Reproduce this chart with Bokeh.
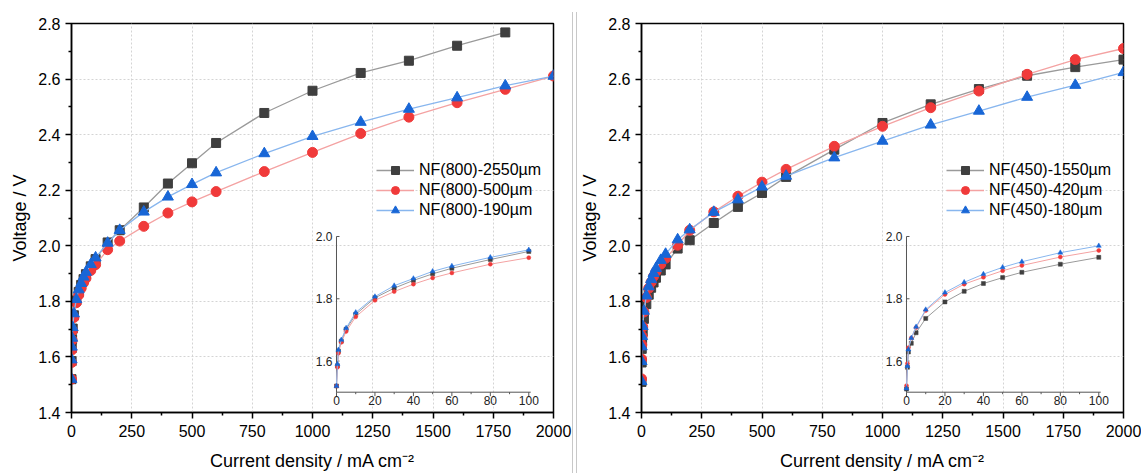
from bokeh.plotting import figure
from bokeh.models import (Range1d, FixedTicker, NumeralTickFormatter, Legend,
                          LegendItem, Div, ColumnDataSource)
from bokeh.layouts import row
from bokeh.embed import file_html
from bokeh.resources import INLINE
from bokeh.core.properties import value
import math

# ---------------- data ----------------
current = [0, 0.5, 1, 2.5, 5, 10, 20, 30, 40, 50, 60, 80, 100,
           150, 200, 300, 400, 500, 600, 800, 1000, 1200, 1400, 1600, 1800, 2000]

left_labels = ["NF(800)-2550µm", "NF(800)-500µm", "NF(800)-190µm"]
left_2550 = [1.520, 1.585, 1.632, 1.664, 1.702, 1.750, 1.803, 1.834, 1.859, 1.880, 1.898, 1.926, 1.952,
             2.012, 2.056, 2.138, 2.224, 2.297, 2.370, 2.478, 2.558, 2.622, 2.666, 2.720, 2.768]
left_500 = [1.520, 1.580, 1.625, 1.660, 1.695, 1.742, 1.795, 1.823, 1.847, 1.867, 1.883, 1.911, 1.932,
            1.986, 2.017, 2.070, 2.118, 2.158, 2.195, 2.267, 2.336, 2.404, 2.463, 2.515, 2.563, 2.611]
left_190 = [1.520, 1.590, 1.636, 1.668, 1.706, 1.756, 1.807, 1.842, 1.865, 1.888, 1.905, 1.933, 1.957,
            2.010, 2.056, 2.122, 2.176, 2.221, 2.263, 2.332, 2.394, 2.445, 2.492, 2.533, 2.576, 2.611]

right_labels = ["NF(450)-1550µm", "NF(450)-420µm", "NF(450)-180µm"]
right_1550 = [1.510, 1.580, 1.629, 1.657, 1.691, 1.737, 1.790, 1.824, 1.849, 1.868, 1.885, 1.911, 1.933,
              1.990, 2.020, 2.082, 2.140, 2.190, 2.248, 2.346, 2.442, 2.509, 2.564, 2.612, 2.643, 2.670]
right_420 = [1.521, 1.592, 1.643, 1.674, 1.708, 1.762, 1.814, 1.847, 1.869, 1.890, 1.907, 1.934, 1.955,
             2.002, 2.056, 2.122, 2.178, 2.229, 2.275, 2.358, 2.430, 2.497, 2.557, 2.617, 2.670, 2.710]
right_180 = [1.512, 1.584, 1.637, 1.674, 1.710, 1.765, 1.820, 1.853, 1.879, 1.901, 1.919, 1.948, 1.970,
             2.022, 2.058, 2.121, 2.166, 2.212, 2.251, 2.317, 2.377, 2.435, 2.485, 2.535, 2.578, 2.624]

x_ticks = [0, 250, 500, 750, 1000, 1250, 1500, 1750, 2000]
x_minor = [125, 375, 625, 875, 1125, 1375, 1625, 1875]
y_ticks = [1.4, 1.6, 1.8, 2.0, 2.2, 2.4, 2.6, 2.8]
y_minor = [1.5, 1.7, 1.9, 2.1, 2.3, 2.5, 2.7]

inset_x_ticks = [0, 20, 40, 60, 80, 100]
inset_x_minor = [10, 30, 50, 70, 90]
inset_y_ticks = [1.6, 1.8, 2.0]
inset_max_current = 100

# ---------------- styling ----------------
FONT = "Liberation Sans"
STYLES = [
    dict(marker="square", fill="#3f3f3f", line="#9a9a9a", size=9, isize=4),
    dict(marker="circle", fill="#f03a3a", line="#f4a2a2", size=10, isize=4),
    dict(marker="triangle", fill="#1866d6", line="#88b6ee", size=11, isize=5),
]

# inset placement expressed as ranges for extra (inset) scales
INSET_X = (-137.8, 112.85)
INSET_Y = (1.4348, 2.684)
INSET_Y_LIM = (1.5, 2.0)
INSET_X_LIM = (0, 101)

H = 473
B_TOP = 23
B_BOT = 61


def make_panel(series, labels, width, bl, br):
    p = figure(width=width, height=H, output_backend="svg", toolbar_location=None,
               x_range=Range1d(0, 2000), y_range=Range1d(1.4, 2.8),
               min_border_left=bl, min_border_right=br, min_border_top=B_TOP, min_border_bottom=B_BOT,
               x_axis_label="Current density / mA cm⁻²", y_axis_label="Voltage / V")
    p.background_fill_color = "white"
    p.border_fill_color = "white"
    p.outline_line_color = "black"
    p.outline_line_width = 1.5
    p.outline_line_alpha = 1.0

    p.xaxis.ticker = FixedTicker(ticks=x_ticks, minor_ticks=x_minor)
    p.yaxis.ticker = FixedTicker(ticks=y_ticks, minor_ticks=y_minor)
    p.yaxis.formatter = NumeralTickFormatter(format="0.0")
    for ax in (p.xaxis[0], p.yaxis[0]):
        ax.axis_line_color = "black"
        ax.axis_line_width = 1.5
        ax.major_tick_line_color = "black"
        ax.major_tick_line_width = 1.5
        ax.minor_tick_line_color = "black"
        ax.minor_tick_line_width = 1.5
        ax.major_tick_in = 0
        ax.major_tick_out = 6
        ax.minor_tick_in = 0
        ax.minor_tick_out = 3
        ax.major_label_text_font = FONT
        ax.major_label_text_font_size = "16px"
        ax.major_label_text_color = "black"
        ax.axis_label_text_font = FONT
        ax.axis_label_text_font_size = "18px"
        ax.axis_label_text_font_style = "normal"
        ax.axis_label_text_color = "black"
    p.xaxis.major_label_standoff = 6
    p.yaxis.major_label_standoff = 5
    p.xaxis.axis_label_standoff = 11
    p.yaxis.axis_label_standoff = 5

    p.grid.grid_line_color = "#d4d4d4"
    p.grid.grid_line_dash = "2 2"
    p.grid.grid_line_width = 1

    # inset scales
    p.extra_x_ranges = {"inset": Range1d(*INSET_X)}
    p.extra_y_ranges = {"inset": Range1d(*INSET_Y)}

    items = []
    for ys, lab, st in zip(series, labels, STYLES):
        xs = current[:len(ys)]
        src = ColumnDataSource(dict(x=xs, y=ys))
        lr = p.line("x", "y", source=src, line_color=st["line"], line_width=1.3)
        sr = p.scatter("x", "y", source=src, marker=st["marker"], size=st["size"],
                       fill_color=st["fill"], line_color=st["fill"], line_width=1)
        items.append(LegendItem(label=lab, renderers=[lr, sr]))

    # ---- inset ----
    kw = dict(x_range_name="inset", y_range_name="inset")
    p.segment(x0=[INSET_X_LIM[0]], y0=[INSET_Y_LIM[0]], x1=[INSET_X_LIM[1]], y1=[INSET_Y_LIM[0]],
              line_color="#555555", line_width=1, **kw)
    p.segment(x0=[INSET_X_LIM[0]], y0=[INSET_Y_LIM[0]], x1=[INSET_X_LIM[0]], y1=[INSET_Y_LIM[1]],
              line_color="#555555", line_width=1, **kw)
    p.ray(x=inset_x_ticks, y=[INSET_Y_LIM[0]] * len(inset_x_ticks), length=4, length_units="screen",
          angle=-math.pi / 2, line_color="#555555", line_width=1, **kw)
    p.ray(x=inset_x_minor, y=[INSET_Y_LIM[0]] * len(inset_x_minor), length=2, length_units="screen",
          angle=-math.pi / 2, line_color="#555555", line_width=1, **kw)
    p.ray(x=[INSET_X_LIM[0]] * len(inset_y_ticks), y=inset_y_ticks, length=3, length_units="screen",
          angle=0, line_color="#555555", line_width=1, **kw)
    p.text(x=inset_x_ticks, y=[INSET_Y_LIM[0]] * len(inset_x_ticks),
           text=[str(v) for v in inset_x_ticks],
           text_font=value(FONT), text_font_size="12px", text_color="#222222",
           text_align="center", text_baseline="top", y_offset=4, **kw)
    p.text(x=[INSET_X_LIM[0]] * len(inset_y_ticks), y=inset_y_ticks,
           text=[f"{v:.1f}" for v in inset_y_ticks],
           text_font=value(FONT), text_font_size="12px", text_color="#222222",
           text_align="right", text_baseline="middle", x_offset=-4, **kw)
    for ys, st in zip(series, STYLES):
        n = sum(1 for c in current[:len(ys)] if c <= inset_max_current)
        src = ColumnDataSource(dict(x=current[:n], y=ys[:n]))
        p.line("x", "y", source=src, line_color=st["line"], line_width=1, **kw)
        p.scatter("x", "y", source=src, marker=st["marker"], size=st["isize"],
                  fill_color=st["fill"], line_color=st["fill"], line_width=0.5, **kw)

    legend = Legend(items=items, location=(301, 188))
    legend.border_line_alpha = 0
    legend.background_fill_alpha = 0
    legend.label_text_font = FONT
    legend.label_text_font_size = "16px"
    legend.label_text_color = "black"
    legend.glyph_width = 38
    legend.glyph_height = 20
    legend.label_height = 20
    legend.spacing = 0
    legend.padding = 4
    legend.margin = 0
    legend.label_standoff = 5
    p.add_layout(legend)
    return p


p1 = make_panel([left_2550, left_500, left_190], left_labels, 572, 71, 19)
p2 = make_panel([right_1550, right_420, right_180], right_labels, 564, 64, 18)
sep = Div(text="", width=5, height=H - 12, margin=(12, 0, 0, 0),
          styles={"border-left": "1px solid #c8c8c8", "border-right": "1px solid #c8c8c8",
                  "box-sizing": "border-box"})

layout = row(p1, sep, p2, spacing=0)
open("out.html", "w").write(file_html(layout, INLINE))
